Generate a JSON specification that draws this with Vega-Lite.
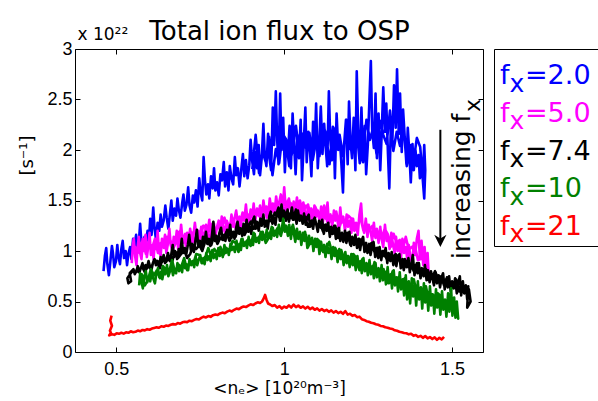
{
"$schema":"https://vega.github.io/schema/vega-lite/v6.json",
"background":"white",
"padding":{"left":18,"top":2,"right":0,"bottom":0},
"spacing":8,
"align":"none",
"bounds":"full",
"config":{"view":{"stroke":null},"axis":{"grid":false,"domainColor":"black","domainWidth":1,"tickColor":"black","tickWidth":1,"labelColor":"black","titleColor":"black","labelFont":"Liberation Sans","titleFont":"DejaVu Sans","titleFontWeight":"normal"}},
"datasets":{
"traces":[
{"s":"2.0","x":0.462,"y":0.8},{"s":"2.0","x":0.466,"y":0.95},{"s":"2.0","x":0.47,"y":1.03},{"s":"2.0","x":0.473,"y":0.88},{"s":"2.0","x":0.478,"y":0.76},{"s":"2.0","x":0.483,"y":0.92},{"s":"2.0","x":0.487,"y":1.05},{"s":"2.0","x":0.49,"y":0.98},{"s":"2.0","x":0.494,"y":0.84},{"s":"2.0","x":0.499,"y":0.9},{"s":"2.0","x":0.503,"y":1.06},{"s":"2.0","x":0.506,"y":0.95},{"s":"2.0","x":0.511,"y":0.87},{"s":"2.0","x":0.515,"y":1.02},{"s":"2.0","x":0.519,"y":1.1},{"s":"2.0","x":0.523,"y":0.93},{"s":"2.0","x":0.528,"y":1.0},{"s":"2.0","x":0.532,"y":0.86},{"s":"2.0","x":0.536,"y":0.97},{"s":"2.0","x":0.541,"y":1.04},{"s":"2.0","x":0.545,"y":0.92},{"s":"2.0","x":0.55,"y":1.12},{"s":"2.0","x":0.554,"y":1.05},{"s":"2.0","x":0.559,"y":1.16},{"s":"2.0","x":0.563,"y":1.0},{"s":"2.0","x":0.567,"y":1.08},{"s":"2.0","x":0.571,"y":1.27},{"s":"2.0","x":0.574,"y":1.12},{"s":"2.0","x":0.579,"y":1.02},{"s":"2.0","x":0.584,"y":1.14},{"s":"2.0","x":0.588,"y":1.07},{"s":"2.0","x":0.593,"y":1.2},{"s":"2.0","x":0.597,"y":1.1},{"s":"2.0","x":0.601,"y":1.32},{"s":"2.0","x":0.605,"y":1.16},{"s":"2.0","x":0.61,"y":1.43},{"s":"2.0","x":0.614,"y":1.22},{"s":"2.0","x":0.618,"y":1.12},{"s":"2.0","x":0.623,"y":1.28},{"s":"2.0","x":0.628,"y":1.2},{"s":"2.0","x":0.632,"y":1.36},{"s":"2.0","x":0.636,"y":1.24},{"s":"2.0","x":0.641,"y":1.3},{"s":"2.0","x":0.646,"y":1.45},{"s":"2.0","x":0.65,"y":1.33},{"s":"2.0","x":0.655,"y":1.22},{"s":"2.0","x":0.66,"y":1.38},{"s":"2.0","x":0.664,"y":1.5},{"s":"2.0","x":0.668,"y":1.3},{"s":"2.0","x":0.673,"y":1.42},{"s":"2.0","x":0.678,"y":1.35},{"s":"2.0","x":0.682,"y":1.52},{"s":"2.0","x":0.686,"y":1.41},{"s":"2.0","x":0.691,"y":1.33},{"s":"2.0","x":0.696,"y":1.47},{"s":"2.0","x":0.7,"y":1.56},{"s":"2.0","x":0.704,"y":1.4},{"s":"2.0","x":0.709,"y":1.46},{"s":"2.0","x":0.714,"y":1.63},{"s":"2.0","x":0.718,"y":1.45},{"s":"2.0","x":0.723,"y":1.38},{"s":"2.0","x":0.728,"y":1.55},{"s":"2.0","x":0.732,"y":1.48},{"s":"2.0","x":0.737,"y":1.6},{"s":"2.0","x":0.742,"y":1.44},{"s":"2.0","x":0.747,"y":1.72},{"s":"2.0","x":0.751,"y":1.58},{"s":"2.0","x":0.756,"y":1.5},{"s":"2.0","x":0.76,"y":1.93},{"s":"2.0","x":0.764,"y":1.7},{"s":"2.0","x":0.768,"y":1.56},{"s":"2.0","x":0.773,"y":1.66},{"s":"2.0","x":0.777,"y":1.52},{"s":"2.0","x":0.782,"y":1.74},{"s":"2.0","x":0.787,"y":1.62},{"s":"2.0","x":0.791,"y":1.82},{"s":"2.0","x":0.795,"y":1.6},{"s":"2.0","x":0.8,"y":1.68},{"s":"2.0","x":0.805,"y":1.55},{"s":"2.0","x":0.81,"y":1.76},{"s":"2.0","x":0.815,"y":1.7},{"s":"2.0","x":0.82,"y":1.88},{"s":"2.0","x":0.824,"y":1.64},{"s":"2.0","x":0.829,"y":1.78},{"s":"2.0","x":0.834,"y":1.6},{"s":"2.0","x":0.838,"y":1.84},{"s":"2.0","x":0.843,"y":1.72},{"s":"2.0","x":0.848,"y":1.66},{"s":"2.0","x":0.853,"y":1.93},{"s":"2.0","x":0.857,"y":1.75},{"s":"2.0","x":0.862,"y":1.82},{"s":"2.0","x":0.867,"y":1.64},{"s":"2.0","x":0.872,"y":1.8},{"s":"2.0","x":0.877,"y":1.96},{"s":"2.0","x":0.881,"y":1.74},{"s":"2.0","x":0.886,"y":1.9},{"s":"2.0","x":0.891,"y":1.72},{"s":"2.0","x":0.896,"y":1.85},{"s":"2.0","x":0.9,"y":2.1},{"s":"2.0","x":0.905,"y":1.88},{"s":"2.0","x":0.91,"y":1.76},{"s":"2.0","x":0.914,"y":1.98},{"s":"2.0","x":0.919,"y":1.82},{"s":"2.0","x":0.924,"y":2.05},{"s":"2.0","x":0.928,"y":1.75},{"s":"2.0","x":0.933,"y":1.92},{"s":"2.0","x":0.938,"y":2.26},{"s":"2.0","x":0.942,"y":1.95},{"s":"2.0","x":0.947,"y":1.84},{"s":"2.0","x":0.952,"y":2.16},{"s":"2.0","x":0.956,"y":1.92},{"s":"2.0","x":0.961,"y":1.8},{"s":"2.0","x":0.966,"y":2.42},{"s":"2.0","x":0.97,"y":2.05},{"s":"2.0","x":0.975,"y":2.58},{"s":"2.0","x":0.979,"y":2.1},{"s":"2.0","x":0.983,"y":1.86},{"s":"2.0","x":0.988,"y":2.56},{"s":"2.0","x":0.992,"y":2.0},{"s":"2.0","x":0.997,"y":2.32},{"s":"2.0","x":1.002,"y":1.78},{"s":"2.0","x":1.006,"y":2.1},{"s":"2.0","x":1.011,"y":1.95},{"s":"2.0","x":1.016,"y":2.24},{"s":"2.0","x":1.02,"y":1.82},{"s":"2.0","x":1.025,"y":2.36},{"s":"2.0","x":1.03,"y":2.02},{"s":"2.0","x":1.034,"y":1.76},{"s":"2.0","x":1.039,"y":2.15},{"s":"2.0","x":1.044,"y":1.92},{"s":"2.0","x":1.049,"y":2.3},{"s":"2.0","x":1.053,"y":1.7},{"s":"2.0","x":1.058,"y":2.05},{"s":"2.0","x":1.063,"y":2.42},{"s":"2.0","x":1.067,"y":1.88},{"s":"2.0","x":1.072,"y":2.18},{"s":"2.0","x":1.077,"y":1.98},{"s":"2.0","x":1.081,"y":1.74},{"s":"2.0","x":1.086,"y":2.28},{"s":"2.0","x":1.091,"y":2.02},{"s":"2.0","x":1.095,"y":2.46},{"s":"2.0","x":1.1,"y":1.82},{"s":"2.0","x":1.105,"y":2.12},{"s":"2.0","x":1.109,"y":2.43},{"s":"2.0","x":1.114,"y":1.96},{"s":"2.0","x":1.119,"y":2.26},{"s":"2.0","x":1.123,"y":2.05},{"s":"2.0","x":1.128,"y":1.84},{"s":"2.0","x":1.133,"y":2.58},{"s":"2.0","x":1.137,"y":2.12},{"s":"2.0","x":1.142,"y":1.9},{"s":"2.0","x":1.147,"y":2.22},{"s":"2.0","x":1.151,"y":1.72},{"s":"2.0","x":1.156,"y":2.36},{"s":"2.0","x":1.161,"y":2.0},{"s":"2.0","x":1.165,"y":2.14},{"s":"2.0","x":1.17,"y":1.88},{"s":"2.0","x":1.175,"y":1.58},{"s":"2.0","x":1.179,"y":2.08},{"s":"2.0","x":1.184,"y":2.3},{"s":"2.0","x":1.189,"y":1.86},{"s":"2.0","x":1.193,"y":2.48},{"s":"2.0","x":1.198,"y":2.06},{"s":"2.0","x":1.202,"y":1.92},{"s":"2.0","x":1.207,"y":2.32},{"s":"2.0","x":1.212,"y":1.8},{"s":"2.0","x":1.216,"y":2.78},{"s":"2.0","x":1.221,"y":2.1},{"s":"2.0","x":1.226,"y":1.95},{"s":"2.0","x":1.23,"y":2.42},{"s":"2.0","x":1.235,"y":1.88},{"s":"2.0","x":1.24,"y":2.24},{"s":"2.0","x":1.244,"y":1.76},{"s":"2.0","x":1.249,"y":2.05},{"s":"2.0","x":1.254,"y":2.52},{"s":"2.0","x":1.258,"y":2.88},{"s":"2.0","x":1.262,"y":2.2},{"s":"2.0","x":1.267,"y":2.02},{"s":"2.0","x":1.272,"y":2.56},{"s":"2.0","x":1.276,"y":1.92},{"s":"2.0","x":1.281,"y":2.36},{"s":"2.0","x":1.286,"y":1.8},{"s":"2.0","x":1.29,"y":2.14},{"s":"2.0","x":1.295,"y":2.62},{"s":"2.0","x":1.3,"y":2.18},{"s":"2.0","x":1.304,"y":2.46},{"s":"2.0","x":1.309,"y":1.96},{"s":"2.0","x":1.313,"y":1.62},{"s":"2.0","x":1.318,"y":2.3},{"s":"2.0","x":1.322,"y":2.08},{"s":"2.0","x":1.327,"y":2.64},{"s":"2.0","x":1.332,"y":2.22},{"s":"2.0","x":1.336,"y":2.8},{"s":"2.0","x":1.341,"y":2.16},{"s":"2.0","x":1.345,"y":2.56},{"s":"2.0","x":1.35,"y":1.98},{"s":"2.0","x":1.354,"y":2.4},{"s":"2.0","x":1.359,"y":2.12},{"s":"2.0","x":1.364,"y":1.86},{"s":"2.0","x":1.368,"y":2.22},{"s":"2.0","x":1.373,"y":1.95},{"s":"2.0","x":1.377,"y":1.68},{"s":"2.0","x":1.382,"y":2.06},{"s":"2.0","x":1.386,"y":1.8},{"s":"2.0","x":1.391,"y":2.0},{"s":"2.0","x":1.395,"y":1.84},{"s":"2.0","x":1.4,"y":1.95},{"s":"2.0","x":1.404,"y":1.72},{"s":"2.0","x":1.409,"y":1.82},{"s":"2.0","x":1.413,"y":1.76},{"s":"2.0","x":1.417,"y":2.05},{"s":"2.0","x":1.42,"y":1.8},{"s":"2.0","x":1.417,"y":1.52},
{"s":"2.0","x":1.405,"y":2.03},{"s":"2.0","x":1.395,"y":2.12},{"s":"2.0","x":1.385,"y":1.88},{"s":"2.0","x":1.375,"y":2.05},{"s":"2.0","x":1.365,"y":1.84},{"s":"2.0","x":1.355,"y":2.26},{"s":"2.0","x":1.345,"y":2.04},{"s":"2.0","x":1.335,"y":2.18},{"s":"2.0","x":1.325,"y":1.99},{"s":"2.0","x":1.315,"y":2.39},{"s":"2.0","x":1.305,"y":2.06},{"s":"2.0","x":1.295,"y":2.15},{"s":"2.0","x":1.285,"y":2.29},{"s":"2.0","x":1.275,"y":1.96},{"s":"2.0","x":1.265,"y":2.22},{"s":"2.0","x":1.255,"y":2.1},{"s":"2.0","x":1.245,"y":2.3},{"s":"2.0","x":1.235,"y":2.0},{"s":"2.0","x":1.225,"y":1.87},{"s":"2.0","x":1.215,"y":2.23},{"s":"2.0","x":1.205,"y":2.13},{"s":"2.0","x":1.195,"y":2.01},{"s":"2.0","x":1.185,"y":2.3},{"s":"2.0","x":1.175,"y":1.94},{"s":"2.0","x":1.165,"y":2.15},{"s":"2.0","x":1.155,"y":2.02},{"s":"2.0","x":1.145,"y":2.23},{"s":"2.0","x":1.135,"y":1.86},{"s":"2.0","x":1.125,"y":2.16},{"s":"2.0","x":1.115,"y":2.25},{"s":"2.0","x":1.105,"y":1.94},{"s":"2.0","x":1.095,"y":2.09},{"s":"2.0","x":1.085,"y":1.9},{"s":"2.0","x":1.075,"y":2.17},{"s":"2.0","x":1.065,"y":2.02},{"s":"2.0","x":1.055,"y":2.16},{"s":"2.0","x":1.045,"y":1.95},{"s":"2.0","x":1.035,"y":2.24},{"s":"2.0","x":1.025,"y":2.0},{"s":"2.0","x":1.015,"y":1.84},{"s":"2.0","x":1.005,"y":2.11},{"s":"2.0","x":0.995,"y":2.16},{"s":"2.0","x":0.985,"y":1.87},{"s":"2.0","x":0.975,"y":2.01},{"s":"2.0","x":0.965,"y":1.75},{"s":"2.0","x":0.955,"y":2.13},{"s":"2.0","x":0.945,"y":1.88},{"s":"2.0","x":0.935,"y":1.99},{"s":"2.0","x":0.925,"y":1.77},{"s":"2.0","x":0.915,"y":2.15},{"s":"2.0","x":0.905,"y":1.81},
{"s":"5.0","x":0.546,"y":0.88},{"s":"5.0","x":0.549,"y":1.05},{"s":"5.0","x":0.552,"y":1.12},{"s":"5.0","x":0.556,"y":0.95},{"s":"5.0","x":0.56,"y":0.86},{"s":"5.0","x":0.563,"y":1.02},{"s":"5.0","x":0.567,"y":1.14},{"s":"5.0","x":0.571,"y":0.98},{"s":"5.0","x":0.575,"y":0.92},{"s":"5.0","x":0.579,"y":1.08},{"s":"5.0","x":0.583,"y":1.0},{"s":"5.0","x":0.587,"y":1.16},{"s":"5.0","x":0.591,"y":0.94},{"s":"5.0","x":0.595,"y":1.04},{"s":"5.0","x":0.599,"y":1.18},{"s":"5.0","x":0.603,"y":0.96},{"s":"5.0","x":0.607,"y":1.06},{"s":"5.0","x":0.611,"y":0.92},{"s":"5.0","x":0.615,"y":1.1},{"s":"5.0","x":0.619,"y":1.02},{"s":"5.0","x":0.623,"y":1.2},{"s":"5.0","x":0.627,"y":1.0},{"s":"5.0","x":0.632,"y":0.95},{"s":"5.0","x":0.636,"y":1.12},{"s":"5.0","x":0.64,"y":1.04},{"s":"5.0","x":0.645,"y":1.16},{"s":"5.0","x":0.649,"y":0.98},{"s":"5.0","x":0.654,"y":1.08},{"s":"5.0","x":0.658,"y":1.22},{"s":"5.0","x":0.662,"y":1.06},{"s":"5.0","x":0.667,"y":1.0},{"s":"5.0","x":0.671,"y":1.14},{"s":"5.0","x":0.676,"y":1.08},{"s":"5.0","x":0.68,"y":1.2},{"s":"5.0","x":0.684,"y":1.02},{"s":"5.0","x":0.689,"y":1.12},{"s":"5.0","x":0.693,"y":1.26},{"s":"5.0","x":0.698,"y":1.08},{"s":"5.0","x":0.702,"y":1.15},{"s":"5.0","x":0.707,"y":1.05},{"s":"5.0","x":0.711,"y":1.18},{"s":"5.0","x":0.716,"y":1.12},{"s":"5.0","x":0.72,"y":1.22},{"s":"5.0","x":0.725,"y":1.08},{"s":"5.0","x":0.73,"y":1.16},{"s":"5.0","x":0.734,"y":1.28},{"s":"5.0","x":0.739,"y":1.14},{"s":"5.0","x":0.744,"y":1.2},{"s":"5.0","x":0.748,"y":1.1},{"s":"5.0","x":0.753,"y":1.24},{"s":"5.0","x":0.758,"y":1.16},{"s":"5.0","x":0.762,"y":1.12},{"s":"5.0","x":0.767,"y":1.26},{"s":"5.0","x":0.772,"y":1.18},{"s":"5.0","x":0.777,"y":1.31},{"s":"5.0","x":0.781,"y":1.16},{"s":"5.0","x":0.786,"y":1.22},{"s":"5.0","x":0.791,"y":1.27},{"s":"5.0","x":0.795,"y":1.14},{"s":"5.0","x":0.8,"y":1.24},{"s":"5.0","x":0.805,"y":1.3},{"s":"5.0","x":0.81,"y":1.2},{"s":"5.0","x":0.814,"y":1.34},{"s":"5.0","x":0.819,"y":1.24},{"s":"5.0","x":0.824,"y":1.18},{"s":"5.0","x":0.829,"y":1.3},{"s":"5.0","x":0.833,"y":1.26},{"s":"5.0","x":0.838,"y":1.2},{"s":"5.0","x":0.843,"y":1.36},{"s":"5.0","x":0.848,"y":1.24},{"s":"5.0","x":0.852,"y":1.32},{"s":"5.0","x":0.857,"y":1.4},{"s":"5.0","x":0.862,"y":1.27},{"s":"5.0","x":0.867,"y":1.34},{"s":"5.0","x":0.871,"y":1.24},{"s":"5.0","x":0.876,"y":1.38},{"s":"5.0","x":0.881,"y":1.3},{"s":"5.0","x":0.886,"y":1.46},{"s":"5.0","x":0.89,"y":1.32},{"s":"5.0","x":0.895,"y":1.28},{"s":"5.0","x":0.9,"y":1.41},{"s":"5.0","x":0.905,"y":1.33},{"s":"5.0","x":0.909,"y":1.47},{"s":"5.0","x":0.914,"y":1.3},{"s":"5.0","x":0.919,"y":1.42},{"s":"5.0","x":0.924,"y":1.36},{"s":"5.0","x":0.928,"y":1.45},{"s":"5.0","x":0.933,"y":1.3},{"s":"5.0","x":0.938,"y":1.5},{"s":"5.0","x":0.943,"y":1.38},{"s":"5.0","x":0.947,"y":1.44},{"s":"5.0","x":0.952,"y":1.34},{"s":"5.0","x":0.957,"y":1.52},{"s":"5.0","x":0.962,"y":1.4},{"s":"5.0","x":0.966,"y":1.47},{"s":"5.0","x":0.971,"y":1.36},{"s":"5.0","x":0.976,"y":1.54},{"s":"5.0","x":0.981,"y":1.42},{"s":"5.0","x":0.985,"y":1.48},{"s":"5.0","x":0.99,"y":1.56},{"s":"5.0","x":0.995,"y":1.4},{"s":"5.0","x":1.0,"y":1.63},{"s":"5.0","x":1.004,"y":1.44},{"s":"5.0","x":1.009,"y":1.38},{"s":"5.0","x":1.014,"y":1.52},{"s":"5.0","x":1.019,"y":1.42},{"s":"5.0","x":1.024,"y":1.36},{"s":"5.0","x":1.028,"y":1.49},{"s":"5.0","x":1.033,"y":1.4},{"s":"5.0","x":1.038,"y":1.53},{"s":"5.0","x":1.043,"y":1.36},{"s":"5.0","x":1.048,"y":1.44},{"s":"5.0","x":1.052,"y":1.34},{"s":"5.0","x":1.057,"y":1.48},{"s":"5.0","x":1.062,"y":1.38},{"s":"5.0","x":1.067,"y":1.3},{"s":"5.0","x":1.071,"y":1.46},{"s":"5.0","x":1.076,"y":1.36},{"s":"5.0","x":1.081,"y":1.42},{"s":"5.0","x":1.086,"y":1.29},{"s":"5.0","x":1.09,"y":1.45},{"s":"5.0","x":1.095,"y":1.34},{"s":"5.0","x":1.1,"y":1.4},{"s":"5.0","x":1.105,"y":1.3},{"s":"5.0","x":1.11,"y":1.44},{"s":"5.0","x":1.114,"y":1.26},{"s":"5.0","x":1.119,"y":1.38},{"s":"5.0","x":1.124,"y":1.32},{"s":"5.0","x":1.129,"y":1.48},{"s":"5.0","x":1.133,"y":1.28},{"s":"5.0","x":1.138,"y":1.36},{"s":"5.0","x":1.143,"y":1.24},{"s":"5.0","x":1.148,"y":1.4},{"s":"5.0","x":1.152,"y":1.3},{"s":"5.0","x":1.157,"y":1.35},{"s":"5.0","x":1.162,"y":1.22},{"s":"5.0","x":1.167,"y":1.43},{"s":"5.0","x":1.171,"y":1.28},{"s":"5.0","x":1.176,"y":1.34},{"s":"5.0","x":1.181,"y":1.2},{"s":"5.0","x":1.186,"y":1.36},{"s":"5.0","x":1.19,"y":1.24},{"s":"5.0","x":1.195,"y":1.3},{"s":"5.0","x":1.2,"y":1.18},{"s":"5.0","x":1.205,"y":1.32},{"s":"5.0","x":1.209,"y":1.22},{"s":"5.0","x":1.214,"y":1.28},{"s":"5.0","x":1.219,"y":1.16},{"s":"5.0","x":1.224,"y":1.36},{"s":"5.0","x":1.229,"y":1.47},{"s":"5.0","x":1.233,"y":1.25},{"s":"5.0","x":1.238,"y":1.18},{"s":"5.0","x":1.243,"y":1.32},{"s":"5.0","x":1.248,"y":1.14},{"s":"5.0","x":1.252,"y":1.26},{"s":"5.0","x":1.257,"y":1.2},{"s":"5.0","x":1.262,"y":1.1},{"s":"5.0","x":1.267,"y":1.28},{"s":"5.0","x":1.271,"y":1.14},{"s":"5.0","x":1.276,"y":1.22},{"s":"5.0","x":1.281,"y":1.08},{"s":"5.0","x":1.286,"y":1.24},{"s":"5.0","x":1.29,"y":1.12},{"s":"5.0","x":1.295,"y":1.04},{"s":"5.0","x":1.3,"y":1.26},{"s":"5.0","x":1.305,"y":1.1},{"s":"5.0","x":1.309,"y":1.16},{"s":"5.0","x":1.314,"y":1.02},{"s":"5.0","x":1.319,"y":1.18},{"s":"5.0","x":1.324,"y":1.06},{"s":"5.0","x":1.329,"y":0.98},{"s":"5.0","x":1.333,"y":1.14},{"s":"5.0","x":1.338,"y":1.0},{"s":"5.0","x":1.343,"y":1.08},{"s":"5.0","x":1.348,"y":0.94},{"s":"5.0","x":1.352,"y":1.12},{"s":"5.0","x":1.357,"y":0.98},{"s":"5.0","x":1.362,"y":1.04},{"s":"5.0","x":1.367,"y":0.9},{"s":"5.0","x":1.371,"y":1.06},{"s":"5.0","x":1.376,"y":0.94},{"s":"5.0","x":1.381,"y":0.88},{"s":"5.0","x":1.386,"y":1.08},{"s":"5.0","x":1.39,"y":0.96},{"s":"5.0","x":1.395,"y":1.12},{"s":"5.0","x":1.4,"y":1.2},{"s":"5.0","x":1.404,"y":0.92},{"s":"5.0","x":1.409,"y":1.1},{"s":"5.0","x":1.414,"y":0.86},{"s":"5.0","x":1.418,"y":1.04},{"s":"5.0","x":1.423,"y":0.82},{"s":"5.0","x":1.427,"y":0.98},{"s":"5.0","x":1.43,"y":0.78},
{"s":"5.0","x":1.425,"y":0.89},{"s":"5.0","x":1.416,"y":1.01},{"s":"5.0","x":1.407,"y":0.92},{"s":"5.0","x":1.398,"y":0.91},{"s":"5.0","x":1.389,"y":1.06},{"s":"5.0","x":1.38,"y":1.04},{"s":"5.0","x":1.371,"y":1.01},{"s":"5.0","x":1.362,"y":1.14},{"s":"5.0","x":1.353,"y":1.01},{"s":"5.0","x":1.344,"y":1.11},{"s":"5.0","x":1.335,"y":1.07},{"s":"5.0","x":1.326,"y":1.17},{"s":"5.0","x":1.317,"y":1.04},{"s":"5.0","x":1.308,"y":1.17},{"s":"5.0","x":1.299,"y":1.22},{"s":"5.0","x":1.29,"y":1.12},{"s":"5.0","x":1.281,"y":1.19},{"s":"5.0","x":1.272,"y":1.13},{"s":"5.0","x":1.263,"y":1.25},{"s":"5.0","x":1.254,"y":1.2},{"s":"5.0","x":1.245,"y":1.27},{"s":"5.0","x":1.236,"y":1.2},{"s":"5.0","x":1.227,"y":1.33},{"s":"5.0","x":1.218,"y":1.25},{"s":"5.0","x":1.209,"y":1.2},{"s":"5.0","x":1.2,"y":1.32},{"s":"5.0","x":1.191,"y":1.35},{"s":"5.0","x":1.182,"y":1.25},{"s":"5.0","x":1.173,"y":1.32},{"s":"5.0","x":1.164,"y":1.23},{"s":"5.0","x":1.155,"y":1.39},{"s":"5.0","x":1.146,"y":1.31},{"s":"5.0","x":1.137,"y":1.36},{"s":"5.0","x":1.128,"y":1.29},{"s":"5.0","x":1.119,"y":1.45},{"s":"5.0","x":1.11,"y":1.33},{"s":"5.0","x":1.101,"y":1.37},{"s":"5.0","x":1.092,"y":1.44},{"s":"5.0","x":1.083,"y":1.31},{"s":"5.0","x":1.074,"y":1.43},{"s":"5.0","x":1.065,"y":1.45},{"s":"5.0","x":1.056,"y":1.37},{"s":"5.0","x":1.047,"y":1.5},{"s":"5.0","x":1.038,"y":1.41},{"s":"5.0","x":1.029,"y":1.36},{"s":"5.0","x":1.02,"y":1.47},{"s":"5.0","x":1.011,"y":1.5},{"s":"5.0","x":1.002,"y":1.4},{"s":"5.0","x":0.993,"y":1.45},{"s":"5.0","x":0.984,"y":1.35},{"s":"5.0","x":0.975,"y":1.49},{"s":"5.0","x":0.966,"y":1.39},{"s":"5.0","x":0.957,"y":1.42},{"s":"5.0","x":0.948,"y":1.33},{"s":"5.0","x":0.939,"y":1.47},{"s":"5.0","x":0.93,"y":1.33},{"s":"5.0","x":0.921,"y":1.36},{"s":"5.0","x":0.912,"y":1.4},{"s":"5.0","x":0.903,"y":1.26},{"s":"5.0","x":0.894,"y":1.36},{"s":"5.0","x":0.885,"y":1.3},{"s":"5.0","x":0.876,"y":1.38},{"s":"5.0","x":0.867,"y":1.25},{"s":"5.0","x":0.858,"y":1.19},{"s":"5.0","x":0.849,"y":1.32},{"s":"5.0","x":0.84,"y":1.28},{"s":"5.0","x":0.831,"y":1.22},{"s":"5.0","x":0.822,"y":1.33},{"s":"5.0","x":0.813,"y":1.17},{"s":"5.0","x":0.804,"y":1.25},{"s":"5.0","x":0.795,"y":1.19},{"s":"5.0","x":0.786,"y":1.27},{"s":"5.0","x":0.777,"y":1.11},{"s":"5.0","x":0.768,"y":1.22},{"s":"5.0","x":0.759,"y":1.25},{"s":"5.0","x":0.75,"y":1.12},{"s":"5.0","x":0.741,"y":1.17},{"s":"5.0","x":0.732,"y":1.09},{"s":"5.0","x":0.723,"y":1.19},{"s":"5.0","x":0.714,"y":1.12},{"s":"5.0","x":0.705,"y":1.17},{"s":"5.0","x":0.696,"y":1.08},{"s":"5.0","x":0.687,"y":1.19},{"s":"5.0","x":0.678,"y":1.09},{"s":"5.0","x":0.669,"y":1.02},{"s":"5.0","x":0.66,"y":1.12},{"s":"5.0","x":0.651,"y":1.14},{"s":"5.0","x":0.642,"y":1.03},{"s":"5.0","x":0.633,"y":1.08},{"s":"5.0","x":0.624,"y":0.98},{"s":"5.0","x":0.615,"y":1.12},{"s":"5.0","x":0.606,"y":1.02},{"s":"5.0","x":0.597,"y":1.06},{"s":"5.0","x":0.588,"y":0.97},{"s":"5.0","x":0.579,"y":1.12},{"s":"5.0","x":0.57,"y":0.98},{"s":"5.0","x":0.561,"y":1.01},{"s":"5.0","x":0.552,"y":1.06},
{"s":"7.4","x":0.548,"y":0.8},{"s":"7.4","x":0.541,"y":0.77},{"s":"7.4","x":0.533,"y":0.73},{"s":"7.4","x":0.536,"y":0.68},{"s":"7.4","x":0.544,"y":0.7},{"s":"7.4","x":0.54,"y":0.78},{"s":"7.4","x":0.551,"y":0.82},{"s":"7.4","x":0.555,"y":0.77},{"s":"7.4","x":0.56,"y":0.8},{"s":"7.4","x":0.564,"y":0.85},{"s":"7.4","x":0.569,"y":0.79},{"s":"7.4","x":0.573,"y":0.83},{"s":"7.4","x":0.578,"y":0.88},{"s":"7.4","x":0.582,"y":0.81},{"s":"7.4","x":0.587,"y":0.86},{"s":"7.4","x":0.591,"y":0.83},{"s":"7.4","x":0.596,"y":0.9},{"s":"7.4","x":0.6,"y":0.85},{"s":"7.4","x":0.605,"y":0.82},{"s":"7.4","x":0.609,"y":0.88},{"s":"7.4","x":0.614,"y":0.92},{"s":"7.4","x":0.618,"y":0.86},{"s":"7.4","x":0.623,"y":0.9},{"s":"7.4","x":0.627,"y":0.84},{"s":"7.4","x":0.632,"y":0.94},{"s":"7.4","x":0.636,"y":0.89},{"s":"7.4","x":0.641,"y":0.96},{"s":"7.4","x":0.645,"y":0.88},{"s":"7.4","x":0.65,"y":0.93},{"s":"7.4","x":0.654,"y":0.98},{"s":"7.4","x":0.659,"y":0.9},{"s":"7.4","x":0.663,"y":0.95},{"s":"7.4","x":0.668,"y":1.06},{"s":"7.4","x":0.672,"y":0.94},{"s":"7.4","x":0.677,"y":0.99},{"s":"7.4","x":0.681,"y":0.92},{"s":"7.4","x":0.686,"y":1.02},{"s":"7.4","x":0.69,"y":0.97},{"s":"7.4","x":0.695,"y":1.12},{"s":"7.4","x":0.699,"y":0.98},{"s":"7.4","x":0.704,"y":1.03},{"s":"7.4","x":0.708,"y":0.96},{"s":"7.4","x":0.713,"y":1.06},{"s":"7.4","x":0.717,"y":1.16},{"s":"7.4","x":0.722,"y":1.01},{"s":"7.4","x":0.726,"y":1.07},{"s":"7.4","x":0.731,"y":0.99},{"s":"7.4","x":0.735,"y":1.09},{"s":"7.4","x":0.74,"y":1.21},{"s":"7.4","x":0.744,"y":1.04},{"s":"7.4","x":0.749,"y":1.1},{"s":"7.4","x":0.753,"y":1.03},{"s":"7.4","x":0.758,"y":1.14},{"s":"7.4","x":0.762,"y":1.06},{"s":"7.4","x":0.767,"y":1.19},{"s":"7.4","x":0.771,"y":1.07},{"s":"7.4","x":0.776,"y":1.12},{"s":"7.4","x":0.78,"y":1.05},{"s":"7.4","x":0.785,"y":1.16},{"s":"7.4","x":0.789,"y":1.29},{"s":"7.4","x":0.794,"y":1.1},{"s":"7.4","x":0.798,"y":1.15},{"s":"7.4","x":0.803,"y":1.08},{"s":"7.4","x":0.807,"y":1.18},{"s":"7.4","x":0.812,"y":1.23},{"s":"7.4","x":0.816,"y":1.11},{"s":"7.4","x":0.821,"y":1.16},{"s":"7.4","x":0.825,"y":1.1},{"s":"7.4","x":0.83,"y":1.21},{"s":"7.4","x":0.834,"y":1.14},{"s":"7.4","x":0.839,"y":1.26},{"s":"7.4","x":0.843,"y":1.13},{"s":"7.4","x":0.848,"y":1.19},{"s":"7.4","x":0.852,"y":1.12},{"s":"7.4","x":0.857,"y":1.23},{"s":"7.4","x":0.861,"y":1.29},{"s":"7.4","x":0.866,"y":1.17},{"s":"7.4","x":0.87,"y":1.22},{"s":"7.4","x":0.875,"y":1.15},{"s":"7.4","x":0.879,"y":1.27},{"s":"7.4","x":0.884,"y":1.2},{"s":"7.4","x":0.888,"y":1.31},{"s":"7.4","x":0.893,"y":1.19},{"s":"7.4","x":0.897,"y":1.24},{"s":"7.4","x":0.902,"y":1.17},{"s":"7.4","x":0.906,"y":1.3},{"s":"7.4","x":0.911,"y":1.34},{"s":"7.4","x":0.915,"y":1.22},{"s":"7.4","x":0.92,"y":1.27},{"s":"7.4","x":0.924,"y":1.2},{"s":"7.4","x":0.929,"y":1.32},{"s":"7.4","x":0.933,"y":1.25},{"s":"7.4","x":0.938,"y":1.36},{"s":"7.4","x":0.942,"y":1.24},{"s":"7.4","x":0.947,"y":1.3},{"s":"7.4","x":0.951,"y":1.22},{"s":"7.4","x":0.956,"y":1.35},{"s":"7.4","x":0.96,"y":1.39},{"s":"7.4","x":0.965,"y":1.27},{"s":"7.4","x":0.969,"y":1.33},{"s":"7.4","x":0.974,"y":1.26},{"s":"7.4","x":0.978,"y":1.38},{"s":"7.4","x":0.983,"y":1.43},{"s":"7.4","x":0.987,"y":1.3},{"s":"7.4","x":0.992,"y":1.46},{"s":"7.4","x":0.996,"y":1.32},{"s":"7.4","x":1.001,"y":1.38},{"s":"7.4","x":1.005,"y":1.3},{"s":"7.4","x":1.01,"y":1.41},{"s":"7.4","x":1.014,"y":1.29},{"s":"7.4","x":1.019,"y":1.36},{"s":"7.4","x":1.023,"y":1.43},{"s":"7.4","x":1.028,"y":1.31},{"s":"7.4","x":1.032,"y":1.37},{"s":"7.4","x":1.037,"y":1.27},{"s":"7.4","x":1.041,"y":1.4},{"s":"7.4","x":1.046,"y":1.3},{"s":"7.4","x":1.05,"y":1.35},{"s":"7.4","x":1.055,"y":1.27},{"s":"7.4","x":1.059,"y":1.37},{"s":"7.4","x":1.064,"y":1.26},{"s":"7.4","x":1.068,"y":1.33},{"s":"7.4","x":1.073,"y":1.36},{"s":"7.4","x":1.077,"y":1.24},{"s":"7.4","x":1.082,"y":1.3},{"s":"7.4","x":1.086,"y":1.22},{"s":"7.4","x":1.091,"y":1.33},{"s":"7.4","x":1.095,"y":1.27},{"s":"7.4","x":1.1,"y":1.19},{"s":"7.4","x":1.104,"y":1.3},{"s":"7.4","x":1.109,"y":1.23},{"s":"7.4","x":1.113,"y":1.31},{"s":"7.4","x":1.118,"y":1.17},{"s":"7.4","x":1.122,"y":1.26},{"s":"7.4","x":1.127,"y":1.2},{"s":"7.4","x":1.131,"y":1.28},{"s":"7.4","x":1.136,"y":1.14},{"s":"7.4","x":1.14,"y":1.24},{"s":"7.4","x":1.145,"y":1.17},{"s":"7.4","x":1.149,"y":1.25},{"s":"7.4","x":1.154,"y":1.12},{"s":"7.4","x":1.158,"y":1.21},{"s":"7.4","x":1.163,"y":1.23},{"s":"7.4","x":1.167,"y":1.1},{"s":"7.4","x":1.172,"y":1.18},{"s":"7.4","x":1.176,"y":1.09},{"s":"7.4","x":1.181,"y":1.2},{"s":"7.4","x":1.185,"y":1.08},{"s":"7.4","x":1.19,"y":1.15},{"s":"7.4","x":1.194,"y":1.19},{"s":"7.4","x":1.199,"y":1.05},{"s":"7.4","x":1.203,"y":1.14},{"s":"7.4","x":1.208,"y":1.06},{"s":"7.4","x":1.212,"y":1.16},{"s":"7.4","x":1.217,"y":1.03},{"s":"7.4","x":1.221,"y":1.12},{"s":"7.4","x":1.226,"y":1.01},{"s":"7.4","x":1.23,"y":1.1},{"s":"7.4","x":1.235,"y":1.14},{"s":"7.4","x":1.239,"y":0.99},{"s":"7.4","x":1.244,"y":1.08},{"s":"7.4","x":1.248,"y":0.98},{"s":"7.4","x":1.253,"y":1.07},{"s":"7.4","x":1.257,"y":0.96},{"s":"7.4","x":1.262,"y":1.05},{"s":"7.4","x":1.266,"y":1.09},{"s":"7.4","x":1.271,"y":0.94},{"s":"7.4","x":1.275,"y":1.03},{"s":"7.4","x":1.28,"y":0.93},{"s":"7.4","x":1.284,"y":1.04},{"s":"7.4","x":1.289,"y":0.91},{"s":"7.4","x":1.293,"y":1.0},{"s":"7.4","x":1.298,"y":0.95},{"s":"7.4","x":1.302,"y":1.03},{"s":"7.4","x":1.307,"y":0.88},{"s":"7.4","x":1.311,"y":0.98},{"s":"7.4","x":1.316,"y":0.9},{"s":"7.4","x":1.32,"y":0.99},{"s":"7.4","x":1.325,"y":0.86},{"s":"7.4","x":1.329,"y":0.96},{"s":"7.4","x":1.334,"y":0.85},{"s":"7.4","x":1.338,"y":0.94},{"s":"7.4","x":1.343,"y":0.97},{"s":"7.4","x":1.347,"y":0.83},{"s":"7.4","x":1.352,"y":0.92},{"s":"7.4","x":1.356,"y":0.81},{"s":"7.4","x":1.361,"y":0.9},{"s":"7.4","x":1.365,"y":0.84},{"s":"7.4","x":1.37,"y":0.93},{"s":"7.4","x":1.374,"y":0.79},{"s":"7.4","x":1.379,"y":0.88},{"s":"7.4","x":1.383,"y":0.96},{"s":"7.4","x":1.388,"y":0.76},{"s":"7.4","x":1.392,"y":0.86},{"s":"7.4","x":1.397,"y":0.78},{"s":"7.4","x":1.401,"y":0.88},{"s":"7.4","x":1.406,"y":0.73},{"s":"7.4","x":1.41,"y":0.83},{"s":"7.4","x":1.415,"y":0.75},{"s":"7.4","x":1.419,"y":0.86},{"s":"7.4","x":1.424,"y":0.71},{"s":"7.4","x":1.428,"y":0.81},{"s":"7.4","x":1.433,"y":0.69},{"s":"7.4","x":1.437,"y":0.8},{"s":"7.4","x":1.442,"y":0.72},{"s":"7.4","x":1.446,"y":0.66},{"s":"7.4","x":1.451,"y":0.79},{"s":"7.4","x":1.455,"y":0.68},{"s":"7.4","x":1.46,"y":0.76},{"s":"7.4","x":1.464,"y":0.64},{"s":"7.4","x":1.469,"y":0.74},{"s":"7.4","x":1.473,"y":0.78},{"s":"7.4","x":1.478,"y":0.62},{"s":"7.4","x":1.482,"y":0.72},{"s":"7.4","x":1.487,"y":0.64},{"s":"7.4","x":1.491,"y":0.75},{"s":"7.4","x":1.496,"y":0.6},{"s":"7.4","x":1.5,"y":0.7},{"s":"7.4","x":1.505,"y":0.63},{"s":"7.4","x":1.509,"y":0.73},{"s":"7.4","x":1.514,"y":0.58},{"s":"7.4","x":1.518,"y":0.68},{"s":"7.4","x":1.523,"y":0.75},{"s":"7.4","x":1.527,"y":0.56},{"s":"7.4","x":1.532,"y":0.7},{"s":"7.4","x":1.536,"y":0.58},{"s":"7.4","x":1.541,"y":0.66},{"s":"7.4","x":1.545,"y":0.52},{"s":"7.4","x":1.55,"y":0.62},{"s":"7.4","x":1.555,"y":0.5},{"s":"7.4","x":1.545,"y":0.44},
{"s":"7.4","x":1.548,"y":0.65},{"s":"7.4","x":1.539,"y":0.6},{"s":"7.4","x":1.53,"y":0.65},{"s":"7.4","x":1.521,"y":0.6},{"s":"7.4","x":1.512,"y":0.72},{"s":"7.4","x":1.503,"y":0.64},{"s":"7.4","x":1.494,"y":0.68},{"s":"7.4","x":1.485,"y":0.74},{"s":"7.4","x":1.476,"y":0.66},{"s":"7.4","x":1.467,"y":0.75},{"s":"7.4","x":1.458,"y":0.73},{"s":"7.4","x":1.449,"y":0.8},{"s":"7.4","x":1.44,"y":0.73},{"s":"7.4","x":1.431,"y":0.71},{"s":"7.4","x":1.422,"y":0.82},{"s":"7.4","x":1.413,"y":0.81},{"s":"7.4","x":1.404,"y":0.79},{"s":"7.4","x":1.395,"y":0.88},{"s":"7.4","x":1.386,"y":0.8},{"s":"7.4","x":1.377,"y":0.87},{"s":"7.4","x":1.368,"y":0.85},{"s":"7.4","x":1.359,"y":0.92},{"s":"7.4","x":1.35,"y":0.84},{"s":"7.4","x":1.341,"y":0.93},{"s":"7.4","x":1.332,"y":0.97},{"s":"7.4","x":1.323,"y":0.9},{"s":"7.4","x":1.314,"y":0.95},{"s":"7.4","x":1.305,"y":0.92},{"s":"7.4","x":1.296,"y":1.0},{"s":"7.4","x":1.287,"y":0.98},{"s":"7.4","x":1.278,"y":1.03},{"s":"7.4","x":1.269,"y":0.99},{"s":"7.4","x":1.26,"y":1.08},{"s":"7.4","x":1.251,"y":1.03},{"s":"7.4","x":1.242,"y":1.0},{"s":"7.4","x":1.233,"y":1.09},{"s":"7.4","x":1.224,"y":1.12},{"s":"7.4","x":1.215,"y":1.06},{"s":"7.4","x":1.206,"y":1.11},{"s":"7.4","x":1.197,"y":1.06},{"s":"7.4","x":1.188,"y":1.18},{"s":"7.4","x":1.179,"y":1.13},{"s":"7.4","x":1.17,"y":1.17},{"s":"7.4","x":1.161,"y":1.13},{"s":"7.4","x":1.152,"y":1.25},{"s":"7.4","x":1.143,"y":1.17},{"s":"7.4","x":1.134,"y":1.21},{"s":"7.4","x":1.125,"y":1.26},{"s":"7.4","x":1.116,"y":1.19},{"s":"7.4","x":1.107,"y":1.27},{"s":"7.4","x":1.098,"y":1.25},{"s":"7.4","x":1.089,"y":1.32},{"s":"7.4","x":1.08,"y":1.25},{"s":"7.4","x":1.071,"y":1.24},{"s":"7.4","x":1.062,"y":1.34},{"s":"7.4","x":1.053,"y":1.33},{"s":"7.4","x":1.044,"y":1.33},{"s":"7.4","x":1.035,"y":1.41},{"s":"7.4","x":1.026,"y":1.31},{"s":"7.4","x":1.017,"y":1.37},{"s":"7.4","x":1.008,"y":1.34},{"s":"7.4","x":0.999,"y":1.4},{"s":"7.4","x":0.99,"y":1.3},{"s":"7.4","x":0.981,"y":1.36},{"s":"7.4","x":0.972,"y":1.38},{"s":"7.4","x":0.963,"y":1.29},{"s":"7.4","x":0.954,"y":1.31},{"s":"7.4","x":0.945,"y":1.25},{"s":"7.4","x":0.936,"y":1.31},{"s":"7.4","x":0.927,"y":1.26},{"s":"7.4","x":0.918,"y":1.29},{"s":"7.4","x":0.909,"y":1.22},{"s":"7.4","x":0.9,"y":1.29},{"s":"7.4","x":0.891,"y":1.22},{"s":"7.4","x":0.882,"y":1.16},{"s":"7.4","x":0.873,"y":1.22},{"s":"7.4","x":0.864,"y":1.23},{"s":"7.4","x":0.855,"y":1.14},{"s":"7.4","x":0.846,"y":1.17},{"s":"7.4","x":0.837,"y":1.1},{"s":"7.4","x":0.828,"y":1.19},{"s":"7.4","x":0.819,"y":1.11},{"s":"7.4","x":0.81,"y":1.13},{"s":"7.4","x":0.801,"y":1.07},{"s":"7.4","x":0.792,"y":1.16},{"s":"7.4","x":0.783,"y":1.06},{"s":"7.4","x":0.774,"y":1.07},{"s":"7.4","x":0.765,"y":1.1},{"s":"7.4","x":0.756,"y":1.0},{"s":"7.4","x":0.747,"y":1.06},{"s":"7.4","x":0.738,"y":1.02},{"s":"7.4","x":0.729,"y":1.06},{"s":"7.4","x":0.72,"y":0.97},{"s":"7.4","x":0.711,"y":0.93},{"s":"7.4","x":0.702,"y":1.01},{"s":"7.4","x":0.693,"y":0.97},{"s":"7.4","x":0.684,"y":0.93},{"s":"7.4","x":0.675,"y":1.0},{"s":"7.4","x":0.666,"y":0.89},{"s":"7.4","x":0.657,"y":0.94},{"s":"7.4","x":0.648,"y":0.89},{"s":"7.4","x":0.639,"y":0.94},{"s":"7.4","x":0.63,"y":0.83},{"s":"7.4","x":0.621,"y":0.9},{"s":"7.4","x":0.612,"y":0.91},{"s":"7.4","x":0.603,"y":0.82},{"s":"7.4","x":0.594,"y":0.85},{"s":"7.4","x":0.585,"y":0.79},{"s":"7.4","x":0.576,"y":0.85},{"s":"7.4","x":0.567,"y":0.79},{"s":"7.4","x":0.558,"y":0.82},
{"s":"10","x":0.568,"y":0.66},{"s":"10","x":0.571,"y":0.78},{"s":"10","x":0.575,"y":0.7},{"s":"10","x":0.579,"y":0.63},{"s":"10","x":0.583,"y":0.74},{"s":"10","x":0.588,"y":0.8},{"s":"10","x":0.592,"y":0.69},{"s":"10","x":0.597,"y":0.75},{"s":"10","x":0.601,"y":0.7},{"s":"10","x":0.606,"y":0.79},{"s":"10","x":0.61,"y":0.73},{"s":"10","x":0.615,"y":0.68},{"s":"10","x":0.619,"y":0.77},{"s":"10","x":0.624,"y":0.83},{"s":"10","x":0.628,"y":0.74},{"s":"10","x":0.633,"y":0.79},{"s":"10","x":0.637,"y":0.72},{"s":"10","x":0.642,"y":0.81},{"s":"10","x":0.646,"y":0.77},{"s":"10","x":0.651,"y":0.86},{"s":"10","x":0.655,"y":0.75},{"s":"10","x":0.66,"y":0.8},{"s":"10","x":0.664,"y":0.85},{"s":"10","x":0.669,"y":0.76},{"s":"10","x":0.673,"y":0.82},{"s":"10","x":0.678,"y":0.78},{"s":"10","x":0.682,"y":0.88},{"s":"10","x":0.687,"y":0.8},{"s":"10","x":0.691,"y":0.84},{"s":"10","x":0.696,"y":0.79},{"s":"10","x":0.7,"y":0.91},{"s":"10","x":0.705,"y":0.83},{"s":"10","x":0.709,"y":0.87},{"s":"10","x":0.714,"y":0.81},{"s":"10","x":0.718,"y":0.92},{"s":"10","x":0.723,"y":0.86},{"s":"10","x":0.727,"y":0.9},{"s":"10","x":0.732,"y":0.84},{"s":"10","x":0.736,"y":0.95},{"s":"10","x":0.741,"y":0.86},{"s":"10","x":0.745,"y":0.91},{"s":"10","x":0.75,"y":0.96},{"s":"10","x":0.754,"y":0.88},{"s":"10","x":0.759,"y":0.93},{"s":"10","x":0.763,"y":0.87},{"s":"10","x":0.768,"y":0.98},{"s":"10","x":0.772,"y":0.91},{"s":"10","x":0.777,"y":0.95},{"s":"10","x":0.781,"y":0.9},{"s":"10","x":0.786,"y":1.01},{"s":"10","x":0.79,"y":0.93},{"s":"10","x":0.795,"y":0.97},{"s":"10","x":0.799,"y":0.92},{"s":"10","x":0.804,"y":1.03},{"s":"10","x":0.808,"y":0.95},{"s":"10","x":0.813,"y":1.0},{"s":"10","x":0.817,"y":0.94},{"s":"10","x":0.822,"y":1.06},{"s":"10","x":0.826,"y":0.98},{"s":"10","x":0.831,"y":1.02},{"s":"10","x":0.835,"y":0.96},{"s":"10","x":0.84,"y":1.07},{"s":"10","x":0.844,"y":1.01},{"s":"10","x":0.849,"y":1.04},{"s":"10","x":0.853,"y":0.99},{"s":"10","x":0.858,"y":1.1},{"s":"10","x":0.862,"y":1.02},{"s":"10","x":0.867,"y":1.07},{"s":"10","x":0.871,"y":1.01},{"s":"10","x":0.876,"y":1.12},{"s":"10","x":0.88,"y":1.05},{"s":"10","x":0.885,"y":1.09},{"s":"10","x":0.889,"y":1.03},{"s":"10","x":0.894,"y":1.14},{"s":"10","x":0.898,"y":1.06},{"s":"10","x":0.903,"y":1.11},{"s":"10","x":0.907,"y":1.06},{"s":"10","x":0.912,"y":1.17},{"s":"10","x":0.916,"y":1.09},{"s":"10","x":0.921,"y":1.13},{"s":"10","x":0.925,"y":1.08},{"s":"10","x":0.93,"y":1.19},{"s":"10","x":0.934,"y":1.11},{"s":"10","x":0.939,"y":1.15},{"s":"10","x":0.943,"y":1.1},{"s":"10","x":0.948,"y":1.21},{"s":"10","x":0.952,"y":1.13},{"s":"10","x":0.957,"y":1.18},{"s":"10","x":0.961,"y":1.12},{"s":"10","x":0.966,"y":1.23},{"s":"10","x":0.97,"y":1.15},{"s":"10","x":0.975,"y":1.2},{"s":"10","x":0.979,"y":1.14},{"s":"10","x":0.984,"y":1.26},{"s":"10","x":0.988,"y":1.17},{"s":"10","x":0.993,"y":1.22},{"s":"10","x":0.997,"y":1.32},{"s":"10","x":1.002,"y":1.19},{"s":"10","x":1.006,"y":1.25},{"s":"10","x":1.011,"y":1.15},{"s":"10","x":1.015,"y":1.26},{"s":"10","x":1.02,"y":1.12},{"s":"10","x":1.024,"y":1.23},{"s":"10","x":1.029,"y":1.17},{"s":"10","x":1.033,"y":1.09},{"s":"10","x":1.038,"y":1.22},{"s":"10","x":1.042,"y":1.12},{"s":"10","x":1.047,"y":1.19},{"s":"10","x":1.051,"y":1.06},{"s":"10","x":1.056,"y":1.18},{"s":"10","x":1.06,"y":1.1},{"s":"10","x":1.065,"y":1.16},{"s":"10","x":1.069,"y":1.03},{"s":"10","x":1.074,"y":1.15},{"s":"10","x":1.078,"y":1.07},{"s":"10","x":1.083,"y":1.13},{"s":"10","x":1.087,"y":1.0},{"s":"10","x":1.092,"y":1.12},{"s":"10","x":1.096,"y":1.04},{"s":"10","x":1.101,"y":1.1},{"s":"10","x":1.105,"y":0.97},{"s":"10","x":1.11,"y":1.09},{"s":"10","x":1.114,"y":1.0},{"s":"10","x":1.119,"y":1.06},{"s":"10","x":1.123,"y":0.94},{"s":"10","x":1.128,"y":1.07},{"s":"10","x":1.132,"y":0.98},{"s":"10","x":1.137,"y":1.03},{"s":"10","x":1.141,"y":0.92},{"s":"10","x":1.146,"y":1.04},{"s":"10","x":1.15,"y":0.95},{"s":"10","x":1.155,"y":1.0},{"s":"10","x":1.159,"y":0.89},{"s":"10","x":1.164,"y":1.02},{"s":"10","x":1.168,"y":0.92},{"s":"10","x":1.173,"y":0.98},{"s":"10","x":1.177,"y":0.86},{"s":"10","x":1.182,"y":0.99},{"s":"10","x":1.186,"y":0.88},{"s":"10","x":1.191,"y":0.95},{"s":"10","x":1.195,"y":0.84},{"s":"10","x":1.2,"y":0.97},{"s":"10","x":1.204,"y":0.86},{"s":"10","x":1.209,"y":0.93},{"s":"10","x":1.213,"y":0.81},{"s":"10","x":1.218,"y":0.95},{"s":"10","x":1.222,"y":0.83},{"s":"10","x":1.227,"y":0.9},{"s":"10","x":1.231,"y":0.78},{"s":"10","x":1.236,"y":0.93},{"s":"10","x":1.24,"y":0.8},{"s":"10","x":1.245,"y":0.88},{"s":"10","x":1.249,"y":0.76},{"s":"10","x":1.254,"y":0.91},{"s":"10","x":1.258,"y":0.77},{"s":"10","x":1.263,"y":0.85},{"s":"10","x":1.267,"y":0.73},{"s":"10","x":1.272,"y":0.88},{"s":"10","x":1.276,"y":0.74},{"s":"10","x":1.281,"y":0.83},{"s":"10","x":1.285,"y":0.7},{"s":"10","x":1.29,"y":0.86},{"s":"10","x":1.294,"y":0.71},{"s":"10","x":1.299,"y":0.8},{"s":"10","x":1.303,"y":0.67},{"s":"10","x":1.308,"y":0.84},{"s":"10","x":1.312,"y":0.68},{"s":"10","x":1.317,"y":0.77},{"s":"10","x":1.321,"y":0.63},{"s":"10","x":1.326,"y":0.81},{"s":"10","x":1.33,"y":0.66},{"s":"10","x":1.335,"y":0.74},{"s":"10","x":1.339,"y":0.6},{"s":"10","x":1.344,"y":0.79},{"s":"10","x":1.348,"y":0.62},{"s":"10","x":1.353,"y":0.72},{"s":"10","x":1.357,"y":0.56},{"s":"10","x":1.362,"y":0.76},{"s":"10","x":1.366,"y":0.52},{"s":"10","x":1.371,"y":0.7},{"s":"10","x":1.375,"y":0.48},{"s":"10","x":1.38,"y":0.73},{"s":"10","x":1.384,"y":0.55},{"s":"10","x":1.389,"y":0.66},{"s":"10","x":1.393,"y":0.46},{"s":"10","x":1.398,"y":0.7},{"s":"10","x":1.402,"y":0.52},{"s":"10","x":1.407,"y":0.64},{"s":"10","x":1.411,"y":0.43},{"s":"10","x":1.416,"y":0.68},{"s":"10","x":1.42,"y":0.49},{"s":"10","x":1.425,"y":0.6},{"s":"10","x":1.429,"y":0.41},{"s":"10","x":1.434,"y":0.65},{"s":"10","x":1.438,"y":0.46},{"s":"10","x":1.443,"y":0.57},{"s":"10","x":1.447,"y":0.38},{"s":"10","x":1.452,"y":0.62},{"s":"10","x":1.456,"y":0.44},{"s":"10","x":1.461,"y":0.55},{"s":"10","x":1.465,"y":0.37},{"s":"10","x":1.47,"y":0.6},{"s":"10","x":1.474,"y":0.42},{"s":"10","x":1.479,"y":0.52},{"s":"10","x":1.483,"y":0.35},{"s":"10","x":1.488,"y":0.58},{"s":"10","x":1.492,"y":0.4},{"s":"10","x":1.497,"y":0.63},{"s":"10","x":1.501,"y":0.36},{"s":"10","x":1.506,"y":0.54},{"s":"10","x":1.51,"y":0.34},{"s":"10","x":1.514,"y":0.5},{"s":"10","x":1.518,"y":0.33},
{"s":"10","x":1.512,"y":0.49},{"s":"10","x":1.503,"y":0.44},{"s":"10","x":1.494,"y":0.55},{"s":"10","x":1.485,"y":0.48},{"s":"10","x":1.476,"y":0.45},{"s":"10","x":1.467,"y":0.55},{"s":"10","x":1.458,"y":0.58},{"s":"10","x":1.449,"y":0.51},{"s":"10","x":1.44,"y":0.57},{"s":"10","x":1.431,"y":0.5},{"s":"10","x":1.422,"y":0.65},{"s":"10","x":1.413,"y":0.58},{"s":"10","x":1.404,"y":0.63},{"s":"10","x":1.395,"y":0.58},{"s":"10","x":1.386,"y":0.72},{"s":"10","x":1.377,"y":0.63},{"s":"10","x":1.368,"y":0.67},{"s":"10","x":1.359,"y":0.73},{"s":"10","x":1.35,"y":0.64},{"s":"10","x":1.341,"y":0.74},{"s":"10","x":1.332,"y":0.71},{"s":"10","x":1.323,"y":0.8},{"s":"10","x":1.314,"y":0.71},{"s":"10","x":1.305,"y":0.68},{"s":"10","x":1.296,"y":0.82},{"s":"10","x":1.287,"y":0.8},{"s":"10","x":1.278,"y":0.77},{"s":"10","x":1.269,"y":0.89},{"s":"10","x":1.26,"y":0.78},{"s":"10","x":1.251,"y":0.86},{"s":"10","x":1.242,"y":0.84},{"s":"10","x":1.233,"y":0.92},{"s":"10","x":1.224,"y":0.81},{"s":"10","x":1.215,"y":0.93},{"s":"10","x":1.206,"y":0.97},{"s":"10","x":1.197,"y":0.88},{"s":"10","x":1.188,"y":0.95},{"s":"10","x":1.179,"y":0.9},{"s":"10","x":1.17,"y":1.01},{"s":"10","x":1.161,"y":0.97},{"s":"10","x":1.152,"y":1.03},{"s":"10","x":1.143,"y":0.98},{"s":"10","x":1.134,"y":1.09},{"s":"10","x":1.125,"y":1.02},{"s":"10","x":1.116,"y":0.99},{"s":"10","x":1.107,"y":1.09},{"s":"10","x":1.098,"y":1.12},{"s":"10","x":1.089,"y":1.05},{"s":"10","x":1.08,"y":1.11},{"s":"10","x":1.071,"y":1.04},{"s":"10","x":1.062,"y":1.19},{"s":"10","x":1.053,"y":1.12},{"s":"10","x":1.044,"y":1.17},{"s":"10","x":1.035,"y":1.12},{"s":"10","x":1.026,"y":1.26},{"s":"10","x":1.017,"y":1.17},{"s":"10","x":1.008,"y":1.21},{"s":"10","x":0.999,"y":1.27},{"s":"10","x":0.99,"y":1.15},{"s":"10","x":0.981,"y":1.23},{"s":"10","x":0.972,"y":1.18},{"s":"10","x":0.963,"y":1.24},{"s":"10","x":0.954,"y":1.13},{"s":"10","x":0.945,"y":1.08},{"s":"10","x":0.936,"y":1.19},{"s":"10","x":0.927,"y":1.15},{"s":"10","x":0.918,"y":1.1},{"s":"10","x":0.909,"y":1.18},{"s":"10","x":0.9,"y":1.05},{"s":"10","x":0.891,"y":1.11},{"s":"10","x":0.882,"y":1.06},{"s":"10","x":0.873,"y":1.12},{"s":"10","x":0.864,"y":0.99},{"s":"10","x":0.855,"y":1.08},{"s":"10","x":0.846,"y":1.1},{"s":"10","x":0.837,"y":0.99},{"s":"10","x":0.828,"y":1.03},{"s":"10","x":0.819,"y":0.96},{"s":"10","x":0.81,"y":1.04},{"s":"10","x":0.801,"y":0.98},{"s":"10","x":0.792,"y":1.02},{"s":"10","x":0.783,"y":0.94},{"s":"10","x":0.774,"y":1.03},{"s":"10","x":0.765,"y":0.94},{"s":"10","x":0.756,"y":0.88},{"s":"10","x":0.747,"y":0.96},{"s":"10","x":0.738,"y":0.97},{"s":"10","x":0.729,"y":0.87},{"s":"10","x":0.72,"y":0.9},{"s":"10","x":0.711,"y":0.81},{"s":"10","x":0.702,"y":0.93},{"s":"10","x":0.693,"y":0.84},{"s":"10","x":0.684,"y":0.87},{"s":"10","x":0.675,"y":0.79},{"s":"10","x":0.666,"y":0.91},{"s":"10","x":0.657,"y":0.79},{"s":"10","x":0.648,"y":0.81},{"s":"10","x":0.639,"y":0.85},{"s":"10","x":0.63,"y":0.73},{"s":"10","x":0.621,"y":0.81},{"s":"10","x":0.612,"y":0.76},{"s":"10","x":0.603,"y":0.82},{"s":"10","x":0.594,"y":0.71},{"s":"10","x":0.585,"y":0.66},{"s":"10","x":0.576,"y":0.77},{"s":"10","x":0.57,"y":0.7},
{"s":"21","x":0.486,"y":0.36},{"s":"21","x":0.482,"y":0.31},{"s":"21","x":0.487,"y":0.26},{"s":"21","x":0.481,"y":0.21},{"s":"21","x":0.484,"y":0.19},{"s":"21","x":0.479,"y":0.165},{"s":"21","x":0.487,"y":0.175},{"s":"21","x":0.494,"y":0.17},{"s":"21","x":0.501,"y":0.185},{"s":"21","x":0.508,"y":0.18},{"s":"21","x":0.515,"y":0.19},{"s":"21","x":0.522,"y":0.182},{"s":"21","x":0.529,"y":0.195},{"s":"21","x":0.536,"y":0.19},{"s":"21","x":0.543,"y":0.205},{"s":"21","x":0.55,"y":0.196},{"s":"21","x":0.557,"y":0.2},{"s":"21","x":0.564,"y":0.212},{"s":"21","x":0.571,"y":0.205},{"s":"21","x":0.578,"y":0.218},{"s":"21","x":0.585,"y":0.214},{"s":"21","x":0.592,"y":0.226},{"s":"21","x":0.599,"y":0.22},{"s":"21","x":0.606,"y":0.232},{"s":"21","x":0.613,"y":0.238},{"s":"21","x":0.62,"y":0.244},{"s":"21","x":0.627,"y":0.24},{"s":"21","x":0.634,"y":0.255},{"s":"21","x":0.641,"y":0.25},{"s":"21","x":0.648,"y":0.262},{"s":"21","x":0.655,"y":0.258},{"s":"21","x":0.662,"y":0.27},{"s":"21","x":0.669,"y":0.276},{"s":"21","x":0.676,"y":0.272},{"s":"21","x":0.683,"y":0.286},{"s":"21","x":0.69,"y":0.28},{"s":"21","x":0.697,"y":0.294},{"s":"21","x":0.704,"y":0.3},{"s":"21","x":0.711,"y":0.296},{"s":"21","x":0.718,"y":0.31},{"s":"21","x":0.725,"y":0.305},{"s":"21","x":0.732,"y":0.318},{"s":"21","x":0.739,"y":0.326},{"s":"21","x":0.746,"y":0.322},{"s":"21","x":0.753,"y":0.338},{"s":"21","x":0.76,"y":0.35},{"s":"21","x":0.767,"y":0.342},{"s":"21","x":0.774,"y":0.356},{"s":"21","x":0.781,"y":0.348},{"s":"21","x":0.788,"y":0.365},{"s":"21","x":0.795,"y":0.372},{"s":"21","x":0.802,"y":0.366},{"s":"21","x":0.809,"y":0.382},{"s":"21","x":0.816,"y":0.39},{"s":"21","x":0.823,"y":0.384},{"s":"21","x":0.83,"y":0.4},{"s":"21","x":0.837,"y":0.41},{"s":"21","x":0.844,"y":0.402},{"s":"21","x":0.851,"y":0.418},{"s":"21","x":0.858,"y":0.43},{"s":"21","x":0.865,"y":0.424},{"s":"21","x":0.872,"y":0.44},{"s":"21","x":0.879,"y":0.45},{"s":"21","x":0.886,"y":0.445},{"s":"21","x":0.893,"y":0.46},{"s":"21","x":0.9,"y":0.472},{"s":"21","x":0.907,"y":0.465},{"s":"21","x":0.914,"y":0.48},{"s":"21","x":0.921,"y":0.492},{"s":"21","x":0.928,"y":0.485},{"s":"21","x":0.934,"y":0.5},{"s":"21","x":0.939,"y":0.53},{"s":"21","x":0.943,"y":0.565},{"s":"21","x":0.947,"y":0.52},{"s":"21","x":0.952,"y":0.48},{"s":"21","x":0.958,"y":0.47},{"s":"21","x":0.965,"y":0.455},{"s":"21","x":0.972,"y":0.465},{"s":"21","x":0.979,"y":0.44},{"s":"21","x":0.986,"y":0.455},{"s":"21","x":0.993,"y":0.43},{"s":"21","x":1.0,"y":0.45},{"s":"21","x":1.007,"y":0.438},{"s":"21","x":1.014,"y":0.462},{"s":"21","x":1.021,"y":0.44},{"s":"21","x":1.028,"y":0.47},{"s":"21","x":1.035,"y":0.445},{"s":"21","x":1.042,"y":0.46},{"s":"21","x":1.049,"y":0.438},{"s":"21","x":1.056,"y":0.452},{"s":"21","x":1.063,"y":0.43},{"s":"21","x":1.07,"y":0.448},{"s":"21","x":1.077,"y":0.425},{"s":"21","x":1.084,"y":0.44},{"s":"21","x":1.091,"y":0.418},{"s":"21","x":1.098,"y":0.432},{"s":"21","x":1.105,"y":0.41},{"s":"21","x":1.112,"y":0.425},{"s":"21","x":1.119,"y":0.405},{"s":"21","x":1.126,"y":0.418},{"s":"21","x":1.133,"y":0.398},{"s":"21","x":1.14,"y":0.412},{"s":"21","x":1.147,"y":0.39},{"s":"21","x":1.154,"y":0.405},{"s":"21","x":1.161,"y":0.385},{"s":"21","x":1.168,"y":0.398},{"s":"21","x":1.175,"y":0.378},{"s":"21","x":1.182,"y":0.405},{"s":"21","x":1.189,"y":0.37},{"s":"21","x":1.196,"y":0.378},{"s":"21","x":1.203,"y":0.358},{"s":"21","x":1.21,"y":0.366},{"s":"21","x":1.217,"y":0.345},{"s":"21","x":1.224,"y":0.35},{"s":"21","x":1.231,"y":0.325},{"s":"21","x":1.238,"y":0.318},{"s":"21","x":1.245,"y":0.305},{"s":"21","x":1.252,"y":0.3},{"s":"21","x":1.259,"y":0.29},{"s":"21","x":1.266,"y":0.285},{"s":"21","x":1.273,"y":0.275},{"s":"21","x":1.28,"y":0.27},{"s":"21","x":1.287,"y":0.258},{"s":"21","x":1.294,"y":0.255},{"s":"21","x":1.301,"y":0.245},{"s":"21","x":1.308,"y":0.24},{"s":"21","x":1.315,"y":0.232},{"s":"21","x":1.322,"y":0.228},{"s":"21","x":1.329,"y":0.215},{"s":"21","x":1.336,"y":0.21},{"s":"21","x":1.343,"y":0.2},{"s":"21","x":1.35,"y":0.195},{"s":"21","x":1.357,"y":0.188},{"s":"21","x":1.364,"y":0.185},{"s":"21","x":1.371,"y":0.175},{"s":"21","x":1.378,"y":0.18},{"s":"21","x":1.385,"y":0.16},{"s":"21","x":1.392,"y":0.168},{"s":"21","x":1.399,"y":0.15},{"s":"21","x":1.406,"y":0.16},{"s":"21","x":1.413,"y":0.14},{"s":"21","x":1.42,"y":0.158},{"s":"21","x":1.427,"y":0.135},{"s":"21","x":1.434,"y":0.148},{"s":"21","x":1.441,"y":0.128},{"s":"21","x":1.448,"y":0.145},{"s":"21","x":1.455,"y":0.12},{"s":"21","x":1.462,"y":0.14},{"s":"21","x":1.469,"y":0.125},{"s":"21","x":1.476,"y":0.15}
],
"legend":[{"s":"2.0","lab":"=2.0"},{"s":"5.0","lab":"=5.0"},{"s":"7.4","lab":"=7.4"},{"s":"10","lab":"=10"},{"s":"21","lab":"=21"}],
"arrow":[{"x":1.465,"y":2.2,"y2":1.1}],
"note":[{"x":1.554,"y":0.921,"t":"increasing f"}]
},
"hconcat":[
{
"width":408,"height":303,
"layer":[
{"data":{"name":"traces"},"mark":{"type":"line","strokeWidth":2.6,"strokeJoin":"round","clip":true},
"encoding":{
"x":{"field":"x","type":"quantitative","scale":{"domain":[0.377,1.592],"nice":false,"zero":false},
"axis":{"orient":"bottom","values":[0.5,1,1.5],"format":"~g","tickSize":-5,"labelPadding":13,"labelFontSize":18,"title":"<nₑ> [10²⁰m⁻³]","titleFontSize":17,"titleY":41,"titleBaseline":"alphabetic"}},
"y":{"field":"y","type":"quantitative","scale":{"domain":[0,3],"nice":false,"zero":false},
"axis":{"orient":"left","values":[0,0.5,1,1.5,2,2.5,3],"format":"~g","tickSize":-5,"labelPadding":8,"labelFontSize":18,"title":"[s⁻¹]","titleFontSize":18,"titleX":-48,"titleY":106,"titleAngle":270,"titleAlign":"center","titleBaseline":"middle"}},
"color":{"field":"s","type":"nominal","scale":{"domain":["2.0","5.0","7.4","10","21"],"range":["#0000ff","#ff00ff","#000000","#008000","#ff0000"]},"legend":null},
"order":{"value":null}
}},
{"data":{"name":"arrow"},"mark":{"type":"rule","strokeWidth":2,"color":"black"},
"encoding":{
"x":{"field":"x","type":"quantitative","scale":{"domain":[0.377,1.592],"nice":false,"zero":false},
"axis":{"orient":"top","values":[0.5,1,1.5],"labels":false,"tickSize":-5,"title":["","Total ion flux to OSP"],"titleFont":"DejaVu Sans","titleFontSize":26,"titleLineHeight":16,"titleX":204,"titleY":-26,"titleAlign":"center","titleBaseline":"alphabetic","titleAngle":0}},
"y":{"field":"y","type":"quantitative","scale":{"domain":[0,3],"nice":false,"zero":false},
"axis":{"orient":"right","values":[0,0.5,1,1.5,2,2.5,3],"labels":false,"tickSize":-5,"title":"x 10²²","titleFontSize":17,"titleX":-406,"titleY":-10,"titleAngle":0,"titleAlign":"left","titleBaseline":"alphabetic"}},
"y2":{"field":"y2"}
}},
{"data":{"name":"arrow"},"mark":{"type":"point","shape":"M-1,-1L0,1L1,-1L0,-0.4Z","filled":true,"color":"black","opacity":1,"size":150},
"encoding":{
"x":{"field":"x","type":"quantitative","scale":{"domain":[0.377,1.592],"nice":false,"zero":false},"axis":null},
"y":{"field":"y2","type":"quantitative","scale":{"domain":[0,3],"nice":false,"zero":false},"axis":null}
}},
{"data":{"name":"note"},"mark":{"type":"text","angle":270,"align":"left","baseline":"alphabetic","font":"DejaVu Sans","fontSize":25,"color":"black"},
"encoding":{
"x":{"field":"x","type":"quantitative","scale":{"domain":[0.377,1.592],"nice":false,"zero":false},"axis":null},
"y":{"field":"y","type":"quantitative","scale":{"domain":[0,3],"nice":false,"zero":false},"axis":null},
"text":{"field":"t"}
}},
{"data":{"name":"note"},"mark":{"type":"text","text":"x","angle":270,"align":"left","baseline":"alphabetic","font":"DejaVu Sans","fontSize":22,"color":"black","dx":147,"dy":10},
"encoding":{
"x":{"field":"x","type":"quantitative","scale":{"domain":[0.377,1.592],"nice":false,"zero":false},"axis":null},
"y":{"field":"y","type":"quantitative","scale":{"domain":[0,3],"nice":false,"zero":false},"axis":null}
}}
],
"resolve":{"axis":{"x":"independent","y":"independent"}}
},
{
"width":108,"height":197,
"view":{"stroke":"black","strokeWidth":1},
"data":{"name":"legend"},
"encoding":{
"y":{"field":"s","type":"nominal","sort":null,"scale":{"type":"point","padding":0.625},"axis":null},
"color":{"field":"s","type":"nominal","scale":{"domain":["2.0","5.0","7.4","10","21"],"range":["#0000ff","#ff00ff","#000000","#008000","#ff0000"]},"legend":null}
},
"layer":[
{"mark":{"type":"text","text":"f","x":6,"dy":12,"align":"left","baseline":"alphabetic","font":"DejaVu Sans","fontSize":27}},
{"mark":{"type":"text","text":"x","x":15.5,"dy":19.5,"align":"left","baseline":"alphabetic","font":"DejaVu Sans","fontSize":25}},
{"mark":{"type":"text","x":31,"dy":12,"align":"left","baseline":"alphabetic","font":"DejaVu Sans","fontSize":27},"encoding":{"text":{"field":"lab"}}}
]
}
]
}
